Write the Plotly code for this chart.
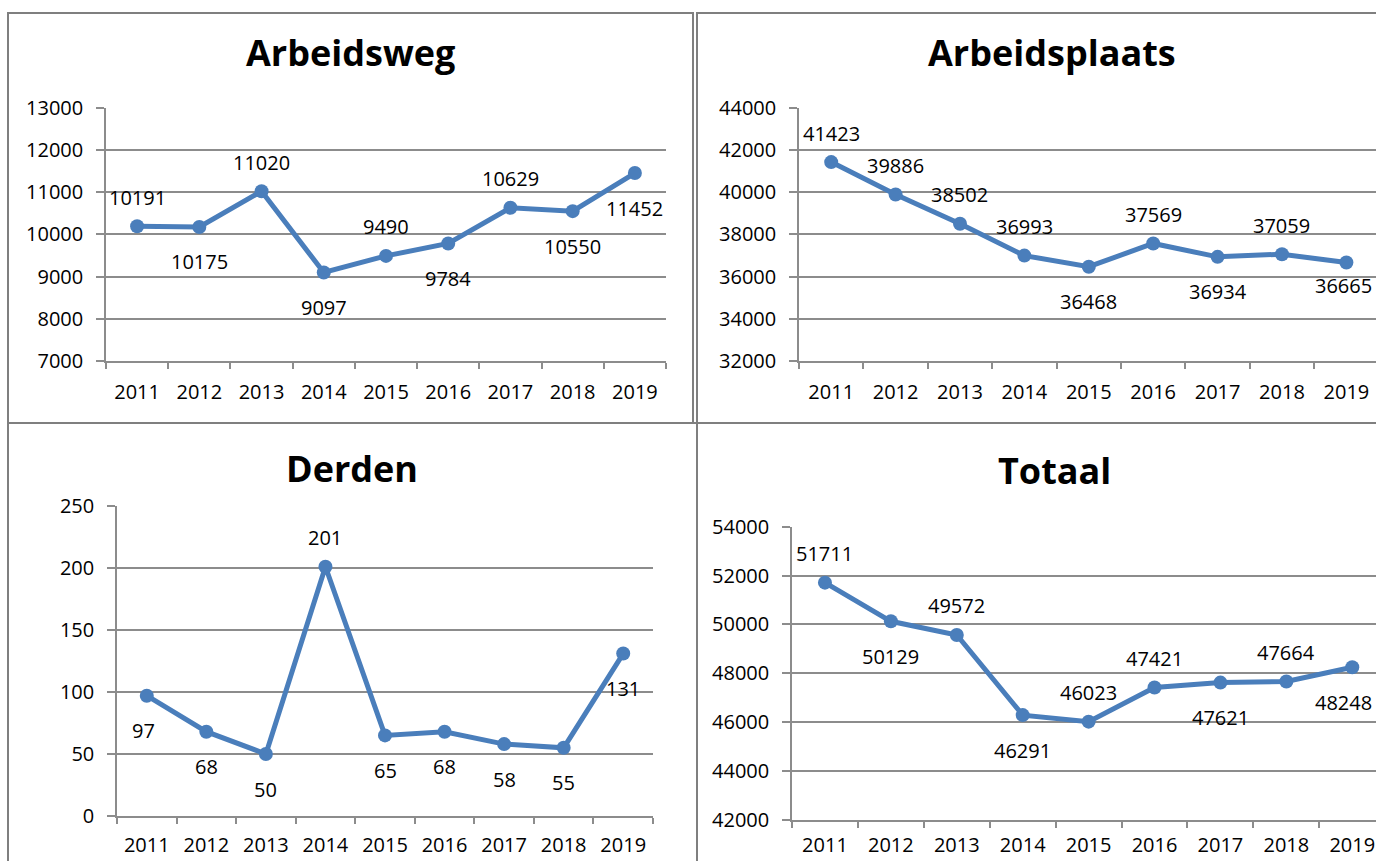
import plotly.graph_objects as go

W, H = 1376, 861

years = ["2011", "2012", "2013", "2014", "2015", "2016", "2017", "2018", "2019"]

titles = ["Arbeidsweg", "Arbeidsplaats", "Derden", "Totaal"]
arbeidsweg = [10191, 10175, 11020, 9097, 9490, 9784, 10629, 10550, 11452]
arbeidsplaats = [41423, 39886, 38502, 36993, 36468, 37569, 36934, 37059, 36665]
derden = [97, 68, 50, 201, 65, 68, 58, 55, 131]
totaal = [51711, 50129, 49572, 46291, 46023, 47421, 47621, 47664, 48248]

# y-axis ranges and steps
y_ranges = [(7000, 13000, 1000), (32000, 44000, 2000), (0, 250, 50), (42000, 54000, 2000)]

# label placement: 'a' above, 'b' below
label_pos = [
    ["a", "b", "a", "b", "a", "b", "a", "b", "b"],
    ["a", "a", "a", "a", "b", "a", "b", "a", "b"],
    ["b", "b", "b", "a", "b", "b", "b", "b", "b"],
    ["a", "b", "a", "b", "a", "a", "b", "a", "b"],
]

LINE = "#4A7EBB"
GRID = "#8C8C8C"
FONT = "Open Sans"
TICKFONT = dict(family=FONT, size=20, color="#000000")


def px_x(v):
    return v / W


def px_y(v):
    return 1 - v / H


# plot-area pixel geometry: (left, right, top, bottom, x-range end, x-label standoff)
areas = [
    (106, 666, 107.7, 361, 8.5, 12),
    (799, 1376, 107.7, 361, 8.46, 12),
    (117, 653, 506, 816, 8.5, 10),
    (792, 1376, 526.7, 820, 8.36, 6),
]

title_pos = [(350, 52.5), (1052, 52.5), (352, 469), (1054, 471)]

series = [arbeidsweg, arbeidsplaats, derden, totaal]

fig = go.Figure()
annotations = []

for i, (vals, (l, r, t, b, xend, xso)) in enumerate(zip(series, areas)):
    n = i + 1
    xa = "x" if n == 1 else f"x{n}"
    ya = "y" if n == 1 else f"y{n}"
    fig.add_trace(go.Scatter(
        x=years, y=vals, mode="lines+markers",
        line=dict(color=LINE, width=5),
        marker=dict(color=LINE, size=14),
        xaxis=xa, yaxis=ya, showlegend=False, cliponaxis=False,
    ))
    lo, hi, step = y_ranges[i]
    xkey = "xaxis" if n == 1 else f"xaxis{n}"
    ykey = "yaxis" if n == 1 else f"yaxis{n}"
    fig.update_layout(**{
        xkey: dict(
            domain=[px_x(l), px_x(r)], anchor=ya, type="category",
            categoryorder="array", categoryarray=years,
            range=[-0.5, xend], tickson="boundaries", ticks="outside",
            ticklen=6, tickwidth=1.5, tickcolor=GRID,
            showline=True, linecolor=GRID, linewidth=1.5,
            showgrid=False, zeroline=False,
            tickfont=TICKFONT, ticklabelstandoff=xso, automargin=False,
        ),
        ykey: dict(
            domain=[px_y(b), px_y(t)], anchor=xa,
            range=[lo, hi], dtick=step, tick0=lo, tickformat="d",
            ticks="outside", ticklen=8, tickwidth=1.5, tickcolor=GRID,
            showline=True, linecolor=GRID, linewidth=1.5,
            showgrid=True, gridcolor=GRID, gridwidth=1.5, zeroline=False,
            tickfont=TICKFONT, ticklabelstandoff=9, automargin=False,
            ticklabeloverflow="allow",
        ),
    })
    for j, v in enumerate(vals):
        above = label_pos[i][j] == "a"
        ys = 29 if above else -35
        xs = 0
        if i == 1 and j == 8:
            ys, xs = -23, -3
        if i == 3 and j == 8:
            xs = -9
        if i == 2 and j == 0:
            xs = -3
        annotations.append(dict(
            x=j, y=v, xref=xa, yref=ya, text=str(v), showarrow=False,
            yshift=ys, xshift=xs,
            font=dict(family=FONT, size=20, color="#000000"),
        ))
    tx, ty = title_pos[i]
    annotations.append(dict(
        x=px_x(tx), y=px_y(ty), xref="paper", yref="paper",
        text=f"<b>{titles[i]}</b>", showarrow=False,
        xanchor="center", yanchor="middle",
        font=dict(family=FONT, size=36, color="#000000"),
    ))

# panel borders (pixel boxes)
boxes = [(8, 693, 13, 423), (697, 1380, 13, 423), (8, 697, 423, 870), (697, 1380, 423, 870)]
shapes = []
for (x0, x1, y0, y1) in boxes:
    shapes.append(dict(
        type="rect", xref="paper", yref="paper",
        x0=px_x(x0), x1=px_x(x1), y0=px_y(y1), y1=px_y(y0),
        line=dict(color="#7F7F7F", width=2), fillcolor="rgba(0,0,0,0)", layer="below",
    ))

fig.update_layout(
    width=W, height=H, autosize=False,
    margin=dict(l=0, r=0, t=0, b=0, autoexpand=False),
    paper_bgcolor="white", plot_bgcolor="white",
    annotations=annotations, shapes=shapes,
    font=dict(family=FONT),
)

fig.write_html(
    "out.html",
    config={"displayModeBar": False},
    post_script="document.body.style.margin='0';document.body.style.overflow='hidden';",
)
